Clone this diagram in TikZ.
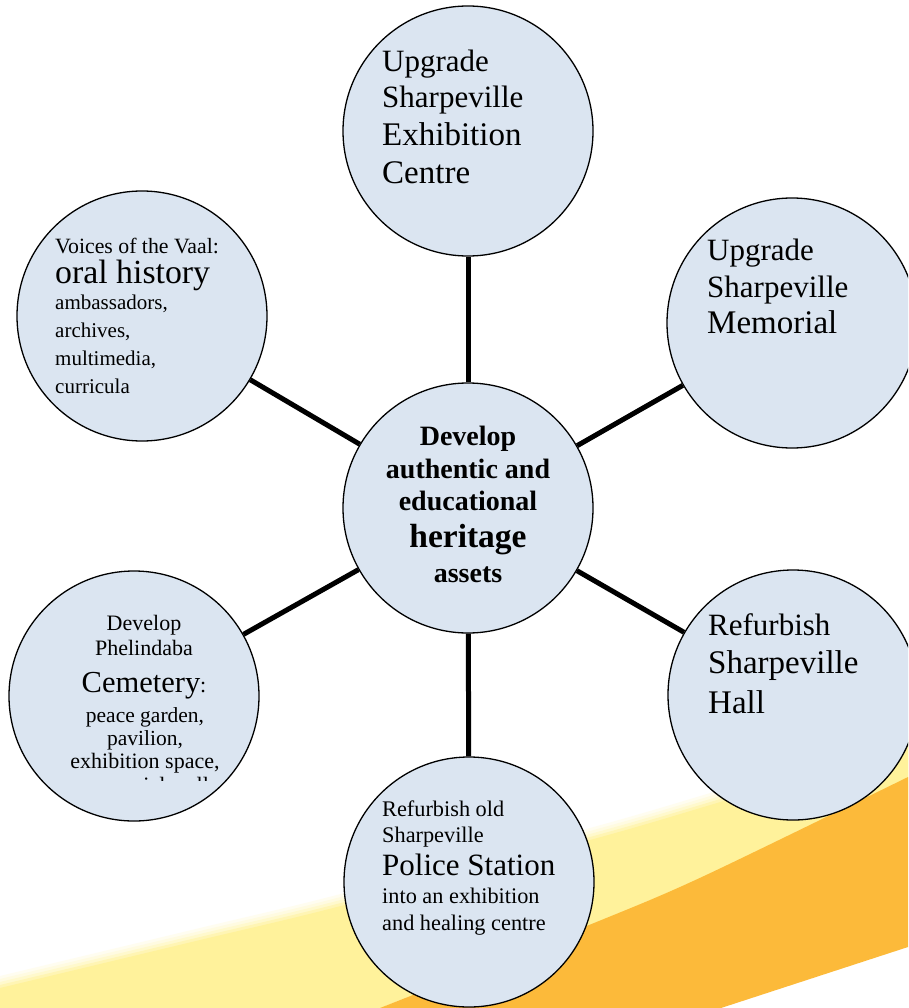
\documentclass[tikz,border=0pt]{standalone}
\usepackage{fontspec}
\setmainfont{Liberation Serif}
\newcommand\fsz[1]{\fontsize{#1}{#1}\selectfont}
\definecolor{bubblefill}{RGB}{219,229,241}
\definecolor{swyellow}{RGB}{255,242,155}
\definecolor{sworange}{RGB}{252,186,58}
\begin{document}
\begin{tikzpicture}[x=1pt,y=-1pt,
  bubble/.style={circle, draw=black, line width=1.3pt, fill=bubblefill, minimum size=250pt, inner sep=0pt},
  conn/.style={line width=5pt, draw=black},
  tl/.style={anchor=base west, inner sep=0pt, text=black},
  tc/.style={anchor=base, inner sep=0pt, text=black}]
\clip (0,0) rectangle (908,1008);
\fill[white] (0,0) rectangle (908,1008);
% background swoosh (soft upper edge)
\foreach \d/\k in {12/15,9/30,6/50,3/75,0/100}{
  \fill[swyellow!\k!white] plot[smooth] coordinates {(0,988-\d) (200,940-\d) (333,908-\d) (590,840-\d) (717,803-\d) (908,745-\d)}
    -- (908,800) -- (380,1008) -- (0,1008) -- cycle;
}
\fill[sworange] plot[smooth] coordinates {(380,1008) (594,923) (704,876) (908,777)}
  -- (908,947) -- (721,1008) -- cycle;
% circles
\node[bubble] (c) at (468,508) {};
\node[bubble] (t) at (468,131) {};
\node[bubble] (m) at (792,323) {};
\node[bubble] (h) at (793,695) {};
\node[bubble] (p) at (469,882) {};
\node[bubble] (cem) at (134,696) {};
\node[bubble] (v) at (142,316) {};
% connectors
\draw[conn] (c) -- (t);
\draw[conn] (c) -- (m);
\draw[conn] (c) -- (h);
\draw[conn] (c) -- (p);
\draw[conn] (c) -- (cem);
\draw[conn] (c) -- (v);
% centre text
\node[tc, font=\fsz{28}\bfseries] (c1) at (468,445) {Develop};
\node[tc, font=\fsz{28}\bfseries] (c2) at (468,478) {authentic and};
\node[tc, font=\fsz{28}\bfseries] (c3) at (468,510) {educational};
\node[tc, font=\fsz{33.5}\bfseries] (c4) at (468,547) {heritage};
\node[tc, font=\fsz{28}\bfseries] (c5) at (468,582) {assets};
% top
\node[tl, font=\fsz{31}] (t1) at (382,72) {Upgrade};
\node[tl, font=\fsz{31}] (t2) at (382,108) {Sharpeville};
\node[tl, font=\fsz{33}] (t3) at (382,146) {Exhibition};
\node[tl, font=\fsz{33}] (t4) at (382,184) {Centre};
% memorial
\node[tl, font=\fsz{31}] (m1) at (707,260) {Upgrade};
\node[tl, font=\fsz{31}] (m2) at (707,297) {Sharpeville};
\node[tl, font=\fsz{33}] (m3) at (707,333) {Memorial};
% hall
\node[tl, font=\fsz{31}] (h1) at (708,635) {Refurbish};
\node[tl, font=\fsz{33}] (h2) at (708,673) {Sharpeville};
\node[tl, font=\fsz{33}] (h3) at (708,713) {Hall};
% police
\node[tl, font=\fsz{22.3}] (p1) at (382,816) {Refurbish old};
\node[tl, font=\fsz{22.3}] (p2) at (382,842) {Sharpeville};
\node[tl, font=\fsz{31}] (p3) at (382,875) {Police Station};
\node[tl, font=\fsz{22.3}] (p4) at (382,903) {into an exhibition};
\node[tl, font=\fsz{22.3}] (p5) at (382,930) {and healing centre};
% cemetery
\node[tc, font=\fsz{22}] (e1) at (144,630) {Develop};
\node[tc, font=\fsz{22}] (e2) at (144,655) {Phelindaba};
\node[tc, font=\fsz{30.5}] (e3) at (144,692) {Cemetery{\fsz{22}:}};
\node[tc, font=\fsz{21.5}] (e4) at (145,722) {peace garden,};
\node[tc, font=\fsz{21.5}] (e5) at (145,745) {pavilion,};
\node[tc, font=\fsz{22}] (e6) at (145,768) {exhibition space,};
\begin{scope}
  \clip (0,700) rectangle (300,780);
  \node[tc, font=\fsz{22}] (e7) at (145,792) {memorial wall};
\end{scope}
% voices
\node[tl, font=\fsz{21.8}] (v1) at (55,254) {Voices of the Vaal:};
\node[tl, font=\fsz{33.8}] (v2) at (55,283) {oral history};
\node[tl, font=\fsz{21}] (v3) at (55,309) {ambassadors,};
\node[tl, font=\fsz{21}] (v4) at (55,337) {archives,};
\node[tl, font=\fsz{21}] (v5) at (55,365) {multimedia,};
\node[tl, font=\fsz{21}] (v6) at (55,393) {curricula};
\end{tikzpicture}
\end{document}
